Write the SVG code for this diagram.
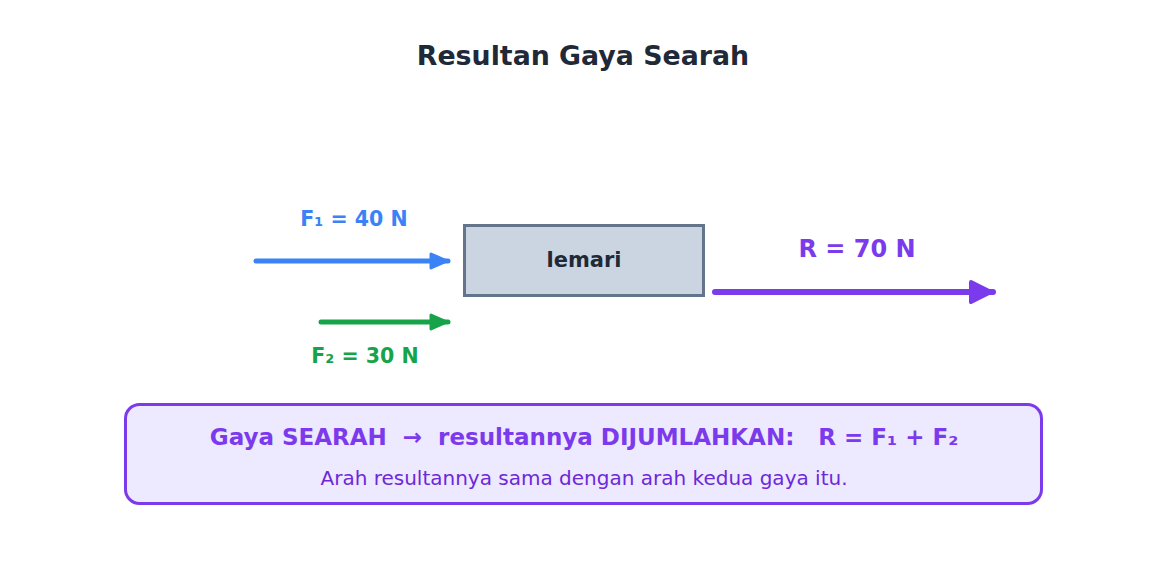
<svg xmlns="http://www.w3.org/2000/svg" width="1167" height="583" viewBox="0 0 1167 583">
<style>
text{font-family:"DejaVu Sans","Liberation Sans",sans-serif;text-anchor:middle}
.b{font-weight:bold}
.conn{fill:none;stroke-linecap:round}
</style>
<defs>
<marker id="hb" markerUnits="userSpaceOnUse" markerWidth="24" markerHeight="24" refX="20" refY="10" orient="auto" viewBox="0 0 24 20">
<path d="M3,3 L19,10 L3,17 Z" fill="#3b82f6" stroke="#3b82f6" stroke-width="3" stroke-linejoin="round"/>
</marker>
<marker id="hg" markerUnits="userSpaceOnUse" markerWidth="24" markerHeight="24" refX="20" refY="10" orient="auto" viewBox="0 0 24 20">
<path d="M3,3 L19,10 L3,17 Z" fill="#16a34a" stroke="#16a34a" stroke-width="3" stroke-linejoin="round"/>
</marker>
<marker id="hp" markerUnits="userSpaceOnUse" markerWidth="30" markerHeight="26" refX="26" refY="12" orient="auto" viewBox="0 0 30 24">
<path d="M4,2 L24,12 L4,22 Z" fill="#7c3aed" stroke="#7c3aed" stroke-width="4" stroke-linejoin="round"/>
</marker>
</defs>
<rect width="1167" height="583" fill="#ffffff"/>
<text x="583" y="65" class="b" font-size="26.8" fill="#1f2937">Resultan Gaya Searah</text>
<g id="connectors">
<line class="conn" x1="256" y1="261" x2="448" y2="261" stroke="#3b82f6" stroke-width="5" marker-end="url(#hb)"/>
<line class="conn" x1="321" y1="322" x2="448" y2="322" stroke="#16a34a" stroke-width="5" marker-end="url(#hg)"/>
<line class="conn" x1="715" y1="292" x2="993" y2="292" stroke="#7c3aed" stroke-width="6" marker-end="url(#hp)"/>
<text x="354" y="226" class="b" font-size="20.5" fill="#3b82f6">F₁ = 40 N</text>
<text x="365" y="363" class="b" font-size="20.5" fill="#16a34a">F₂ = 30 N</text>
<text x="857" y="257" class="b" font-size="24" fill="#7c3aed">R = 70 N</text>
</g>
<g id="lemari">
<rect x="464.5" y="225.5" width="239" height="70" fill="#cbd5e1" stroke="#64748b" stroke-width="3"/>
<text x="584" y="267" class="b" font-size="21" fill="#1f2937">lemari</text>
</g>
<g id="summary">
<rect x="125.5" y="404.5" width="916" height="99" rx="14" fill="#ede9fe" stroke="#7c3aed" stroke-width="3"/>
<text x="584" y="445" class="b" font-size="23" fill="#7c3aed" xml:space="preserve">Gaya SEARAH  →  resultannya DIJUMLAHKAN:   R = F₁ + F₂</text>
<text x="584" y="485" font-size="20" fill="#6d28d9">Arah resultannya sama dengan arah kedua gaya itu.</text>
</g>
</svg>
